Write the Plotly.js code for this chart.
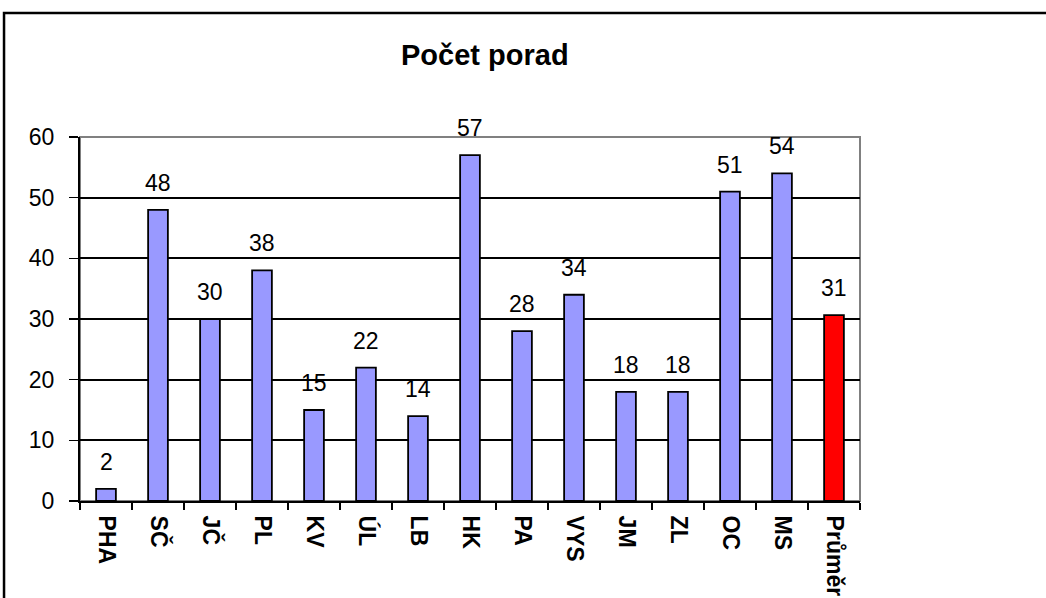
<!DOCTYPE html>
<html>
<head>
<meta charset="utf-8">
<script src="https://cdn.plot.ly/plotly-3.0.1.min.js"></script>
<style>
html, body { margin: 0; padding: 0; background: #fff; }
#chart { width: 1046px; height: 598px; }
</style>
</head>
<body>
<div id="chart"></div>
<script>
const categories = ["PHA", "SČ", "JČ", "PL", "KV", "ÚL", "LB", "HK", "PA", "VYS", "JM", "ZL", "OC", "MS", "Průměr"];
const values = [2, 48, 30, 38, 15, 22, 14, 57, 28, 34, 18, 18, 51, 54, 30.64];
const barColors = ["#9999FF", "#9999FF", "#9999FF", "#9999FF", "#9999FF", "#9999FF", "#9999FF", "#9999FF", "#9999FF", "#9999FF", "#9999FF", "#9999FF", "#9999FF", "#9999FF", "#FF0000"];
const yTicks = [0, 10, 20, 30, 40, 50, 60];

const FONT = "Liberation Sans, Arial, sans-serif";

const trace = {
  type: "bar",
  x: categories,
  y: values,
  marker: { color: barColors, line: { color: "#000000", width: 1.8 } },
  hoverinfo: "x+y"
};

const annotations = categories.map((c, i) => ({
  x: c, y: values[i], xref: "x", yref: "y",
  text: String(Math.round(values[i])),
  showarrow: false, yanchor: "bottom", yshift: 12,
  font: { family: FONT, size: 23, color: "#000" }
}));

const layout = {
  width: 1046, height: 598,
  margin: { l: 80, r: 186, t: 137, b: 97 },
  paper_bgcolor: "#ffffff", plot_bgcolor: "#ffffff",
  showlegend: false,
  bargap: 0.62,
  title: {
    text: "<b>Počet porad</b>",
    x: 0.4635, xanchor: "center", y: 0.908, yanchor: "middle",
    font: { family: FONT, size: 29, color: "#000" }
  },
  xaxis: {
    type: "category",
    tickson: "boundaries",
    ticks: "outside", ticklen: 7, tickwidth: 1.5, tickcolor: "#000",
    tickangle: 90,
    showline: true, linecolor: "#000", linewidth: 2,
    showgrid: false, zeroline: false,
    ticklabelstandoff: 8,
    tickfont: { family: FONT, size: 23, color: "#000", weight: "bold" }
  },
  yaxis: {
    range: [0, 60],
    tickvals: yTicks,
    ticktext: yTicks.map(String),
    ticks: "outside", ticklen: 9, tickwidth: 1.5, tickcolor: "#000",
    showline: true, linecolor: "#000", linewidth: 2,
    showgrid: true, gridcolor: "#000", gridwidth: 2,
    zeroline: false,
    ticklabelstandoff: 10,
    tickfont: { family: FONT, size: 23, color: "#000" }
  },
  shapes: [
    { type: "rect", xref: "paper", yref: "paper", x0: 0, x1: 1, y0: 0, y1: 1,
      line: { color: "#808080", width: 2 }, layer: "below" },
    { type: "rect", xref: "paper", yref: "paper", x0: -0.0974, x1: 1.3, y0: -0.3, y1: 1.3407,
      line: { color: "#000000", width: 2.5 }, layer: "above" }
  ],
  annotations: annotations
};

Plotly.newPlot("chart", [trace], layout, { displayModeBar: false, staticPlot: true });
</script>
</body>
</html>
